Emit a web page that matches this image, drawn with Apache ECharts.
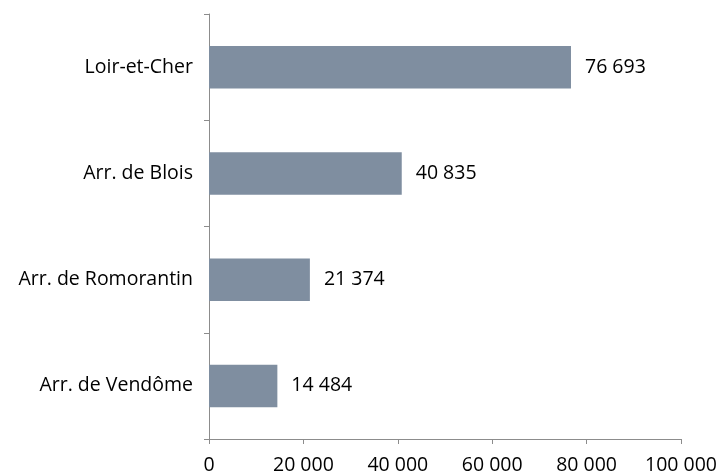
<!DOCTYPE html>
<html><head><meta charset="utf-8">
<script src="https://cdn.jsdelivr.net/npm/echarts@6/dist/echarts.min.js"></script>
<style>html,body{margin:0;padding:0;background:#fff}#c{width:717px;height:474px}</style>
</head><body><div id="c"></div>
<script>
const categories = ["Arr. de Vendôme", "Arr. de Romorantin", "Arr. de Blois", "Loir-et-Cher"];
const values = [14484, 21374, 40835, 76693];
const xTicks = [0, 20000, 40000, 60000, 80000, 100000];

function fmt(v){ return String(v).replace(/\B(?=(\d{3})+(?!\d))/g, ' '); }
const font = 'Open Sans';
const fs = 19.5;
const chart = echarts.init(document.getElementById('c'));
chart.setOption({
  animation: false,
  grid: {left: 209, right: 36, top: 14, bottom: 35, containLabel: false, outerBoundsMode: 'none'},
  xAxis: {
    type: 'value', min: xTicks[0], max: xTicks[xTicks.length-1], interval: 20000,
    splitLine: {show: false},
    axisLine: {show: true, lineStyle: {color: '#8c8c8c', width: 1}},
    axisTick: {show: true, length: 5, lineStyle: {color: '#8c8c8c'}},
    axisLabel: {color: '#000', fontFamily: font, fontSize: fs, margin: 16, formatter: fmt}
  },
  yAxis: {
    type: 'category', data: categories,
    axisLine: {show: true, lineStyle: {color: '#8c8c8c', width: 1}},
    axisTick: {show: true, length: 5, lineStyle: {color: '#8c8c8c'}},
    axisLabel: {color: '#000', fontFamily: font, fontSize: fs, margin: 16}
  },
  series: [{
    type: 'bar', data: values, barCategoryGap: '60%',
    itemStyle: {color: '#7f8ea0'},
    label: {show: true, position: 'right', distance: 14, color: '#000', fontFamily: font, fontSize: fs, formatter: p => fmt(p.value)}
  }]
});
</script></body></html>
